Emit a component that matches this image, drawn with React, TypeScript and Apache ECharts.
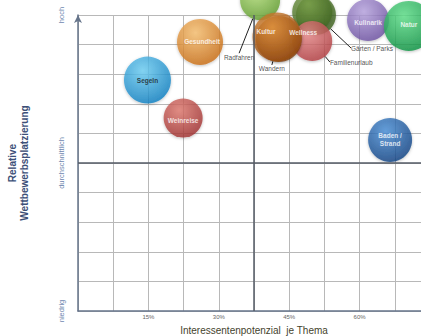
import React, { useEffect, useRef } from "react";
import * as echarts from "echarts";

const names = ["Radfahren", "Gärten / Parks", "Wellness", "Familienurlaub", "Wandern", "Kultur", "Segeln", "Weinreise", "Gesundheit", "Kulinarik", "Natur", "Baden /\nStrand"];
const xValues = [38.8, 50.7, 49.9, 49.9, 42.8, 42.4, 14.8, 22.4, 26.0, 61.8, 70.5, 66.5];
const yValues = [10.5, 10.0, 10.1, 9.12, 9.19, 9.26, 7.8, 6.52, 9.09, 9.83, 9.63, 5.78];
const sizes = [40, 40, 40, 40, 46, 49, 47, 39, 46, 42, 50, 44];
const lightColors = ["#b5e07a", "#6a9a40", "#7aa04a", "#e88a8a", "#d68a3a", "#e0903a", "#6fd0f5", "#e07a70", "#f8c070", "#b8a4e0", "#5fe08a", "#4a90d8"];
const darkColors = ["#5c9a2a", "#3c5e1e", "#3f6420", "#b03a3e", "#8a4410", "#93480f", "#0a7cc0", "#9e2e2e", "#c86a10", "#6a4ea0", "#0a9040", "#0e3f80"];
const xTicks = ["15%", "30%", "45%", "60%"];
const yTickLabels = ["niedrig", "durchschnittlich", "hoch"];

// labels placed outside their bubble, with a leader line
const outsideLabels = ["Radfahren", "Wandern", "Gärten / Parks", "Familienurlaub"];
// label offsets from bubble centre (pixels)
const labelOffsets: Record<string, [number, number]> = {
  "Radfahren": [-21, 57],
  "Wandern": [-7, 30],
  "Gärten / Parks": [56, 33],
  "Familienurlaub": [39, 21],
  "Kultur": [-11, -5],
  "Wellness": [-9, 20],
  "Natur": [0, -1],
  "Kulinarik": [0, 2],
  "Gesundheit": [2, 0],
  "Weinreise": [0, 2],
};

export default function App() {
  const ref = useRef<HTMLDivElement>(null);
  useEffect(() => {
    if (!ref.current) return;
    const chart = echarts.init(ref.current, null, { renderer: "svg" });
    const font = "Liberation Sans, Arial, sans-serif";
    const data = names.map((n, i) => {
      const isOut = outsideLabels.indexOf(n) >= 0;
      return {
        name: n,
        value: [xValues[i], yValues[i], sizes[i]],
        symbolSize: sizes[i],
        itemStyle: {
          color: {
            type: "radial", x: 0.4, y: 0.3, r: 0.75,
            colorStops: [
              { offset: 0, color: lightColors[i] },
              { offset: 1, color: darkColors[i] },
            ],
          },
          shadowBlur: 3, shadowColor: "rgba(0,0,0,0.3)", shadowOffsetY: 1,
        },
        label: {
          show: true,
          position: isOut ? "bottom" : "inside",
          color: isOut ? "#222" : n === "Segeln" ? "#1a1a1a" : "#ffffff",
          fontSize: 6.5,
          fontWeight: isOut ? "normal" : "bold",
          fontFamily: font,
          lineHeight: 8,
          formatter: "{b}",
        },
        labelLine: { show: isOut, lineStyle: { color: "#222", width: 1 } },
      };
    });
    const opt: any = {
      animation: false,
      backgroundColor: "#ffffff",
      grid: { left: 78, right: -9, top: 15, bottom: 25, outerBoundsMode: "none", containLabel: false },
      xAxis: {
        type: "value", min: 0, max: 75, interval: 7.5,
        name: "Interessentenpotenzial  je Thema",
        nameLocation: "middle", nameGap: 14,
        nameTextStyle: { color: "#45432d", fontSize: 10, fontFamily: font },
        axisLine: { show: true, lineStyle: { color: "#66748a", width: 1.5 } },
        axisTick: { show: false },
        axisLabel: {
          fontSize: 6, color: "#666", margin: 3, fontFamily: font,
          formatter: (v: number) => {
            const k = Math.round(v / 15) - 1;
            return Math.abs(v % 15) < 0.01 && k >= 0 && k < xTicks.length ? xTicks[k] : "";
          },
        },
        splitLine: { show: true, lineStyle: { color: "#b8b8b8", width: 1 } },
      },
      yAxis: {
        type: "value", min: 0, max: 10, interval: 1,
        name: "Relative\nWettbewerbsplatzierung",
        nameLocation: "middle", nameGap: 48, nameRotate: 90,
        nameTextStyle: { color: "#3d5078", fontSize: 10, fontWeight: "bold", lineHeight: 12, fontFamily: font },
        axisLine: { show: true, symbol: ["none", "arrow"], symbolSize: [6, 8], lineStyle: { color: "#66748a", width: 1.5 } },
        axisTick: { show: false },
        axisLabel: {
          rotate: 90, fontSize: 7.5, color: "#7088b0", margin: 13, fontFamily: font,
          formatter: (v: number) => (v === 0 ? yTickLabels[0] : v === 5 ? yTickLabels[1] : v === 10 ? yTickLabels[2] : ""),
        },
        splitLine: { show: true, lineStyle: { color: "#b8b8b8", width: 1 } },
      },
      series: [
        {
          type: "scatter",
          clip: false,
          data,
          labelLine: { show: true },
          labelLayout: (p: any) => {
            const n = names[p.dataIndex];
            const off = labelOffsets[n] || [0, 0];
            const cx = p.rect.x + p.rect.width / 2;
            const cy = p.rect.y + p.rect.height / 2;
            return { x: cx + off[0], y: cy + off[1], align: "center", verticalAlign: "middle" };
          },
          markLine: {
            silent: true, symbol: "none", label: { show: false },
            lineStyle: { color: "#555b66", width: 1.5, type: "solid" },
            data: [{ xAxis: 37.5 }, { yAxis: 5 }],
          },
        },
      ],
    };
    chart.setOption(opt);
    return () => chart.dispose();
  }, []);
  return <div ref={ref} style={{ position: "fixed", left: 0, top: 0, width: 421, height: 336 }} />;
}
